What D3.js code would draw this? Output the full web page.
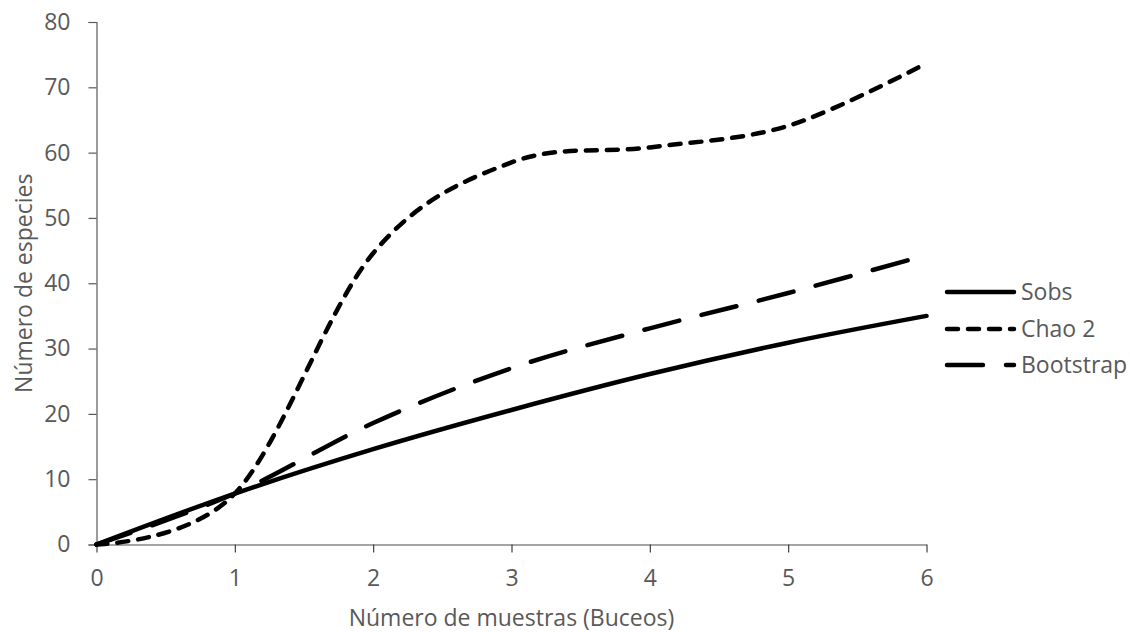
<!DOCTYPE html>
<html>
<head>
<meta charset="utf-8">
<script src="https://cdn.jsdelivr.net/npm/d3@7/dist/d3.min.js"></script>
<style>
  html, body { margin: 0; padding: 0; background: #fff; }
  svg { display: block; }
  text { font-family: "Open Sans", "Noto Sans", sans-serif; fill: #595959; }
</style>
</head>
<body>
<svg id="chart" width="1130" height="632"></svg>
<script>
// Species accumulation: observed richness and two estimators per number of dives
const samples = [0, 1, 2, 3, 4, 5, 6];
const sobs = [0, 7.8, 14.6, 20.6, 26.1, 30.9, 35.0];
const chao2 = [0, 7.8, 44.6, 58.5, 60.8, 64.1, 73.7];
const bootstrap = [0, 7.8, 18.6, 27.0, 33.1, 38.5, 44.3];

const seriesNames = ["Sobs", "Chao 2", "Bootstrap"];
const xTicks = [0, 1, 2, 3, 4, 5, 6];
const yTicks = [0, 10, 20, 30, 40, 50, 60, 70, 80];
const xTitle = "Número de muestras (Buceos)";
const yTitle = "Número de especies";

const FONT = 23;

const series = [
  { name: seriesNames[0], values: sobs, dash: null },
  { name: seriesNames[1], values: chao2, dash: "11,10" },
  { name: seriesNames[2], values: bootstrap, dash: "36,23" }
];

const svg = d3.select("#chart");
const plot = { left: 96.5, right: 926.5, top: 22, bottom: 544.5 };

const x = d3.scaleLinear().domain([0, 6]).range([plot.left, plot.right]);
const y = d3.scaleLinear().domain([0, 80]).range([plot.bottom, plot.top]);

// Y axis
const yAxis = svg.append("g")
  .attr("transform", `translate(${plot.left},0)`)
  .call(d3.axisLeft(y).tickValues(yTicks).tickFormat(d3.format("d")).tickSize(8).tickPadding(18));
yAxis.select(".domain").attr("stroke", "#595959").attr("stroke-width", 1.2);
yAxis.selectAll(".tick line").attr("stroke", "#595959").attr("stroke-width", 1.2);
yAxis.selectAll(".tick text")
  .attr("font-size", FONT).attr("fill", "#595959")
  .style("font-family", "'Open Sans', sans-serif");

// X axis
const xAxis = svg.append("g")
  .attr("transform", `translate(0,${plot.bottom})`)
  .call(d3.axisBottom(x).tickValues(xTicks).tickFormat(d3.format("d")).tickSize(8).tickPadding(17).tickSizeOuter(0));
xAxis.select(".domain").attr("stroke", "#868686").attr("stroke-width", 1.5);
xAxis.selectAll(".tick line").attr("stroke", "#404040").attr("stroke-width", 1.2);
xAxis.selectAll(".tick text")
  .attr("font-size", FONT).attr("fill", "#595959")
  .style("font-family", "'Open Sans', sans-serif");

// Axis titles
svg.append("text")
  .attr("x", (plot.left + plot.right) / 2)
  .attr("y", 626)
  .attr("text-anchor", "middle")
  .attr("font-size", FONT)
  .text(xTitle);

svg.append("text")
  .attr("transform", `translate(31.5,${(plot.top + plot.bottom) / 2}) rotate(-90)`)
  .attr("text-anchor", "middle")
  .attr("font-size", FONT)
  .text(yTitle);

// Smoothed lines
const line = d3.line()
  .x((d, i) => x(samples[i]))
  .y(d => y(d))
  .curve(d3.curveCardinal.tension(0));

svg.append("g").selectAll("path")
  .data(series)
  .join("path")
  .attr("d", d => line(d.values))
  .attr("fill", "none")
  .attr("stroke", "#000")
  .attr("stroke-width", 4.5)
  .attr("stroke-linecap", "round")
  .attr("stroke-linejoin", "round")
  .attr("stroke-dasharray", d => d.dash);

// Legend
const legendY = [292, 329, 365];
const legend = svg.append("g").selectAll("g")
  .data(series)
  .join("g")
  .attr("transform", (d, i) => `translate(0,${legendY[i]})`);

legend.append("line")
  .attr("x1", 947).attr("x2", 1014)
  .attr("y1", 0).attr("y2", 0)
  .attr("stroke", "#000")
  .attr("stroke-width", 4.5)
  .attr("stroke-linecap", "round")
  .attr("stroke-dasharray", d => d.dash);

legend.append("text")
  .attr("x", 1021)
  .attr("y", 0)
  .attr("dy", "0.35em")
  .attr("font-size", FONT)
  .text(d => d.name);
</script>
</body>
</html>
